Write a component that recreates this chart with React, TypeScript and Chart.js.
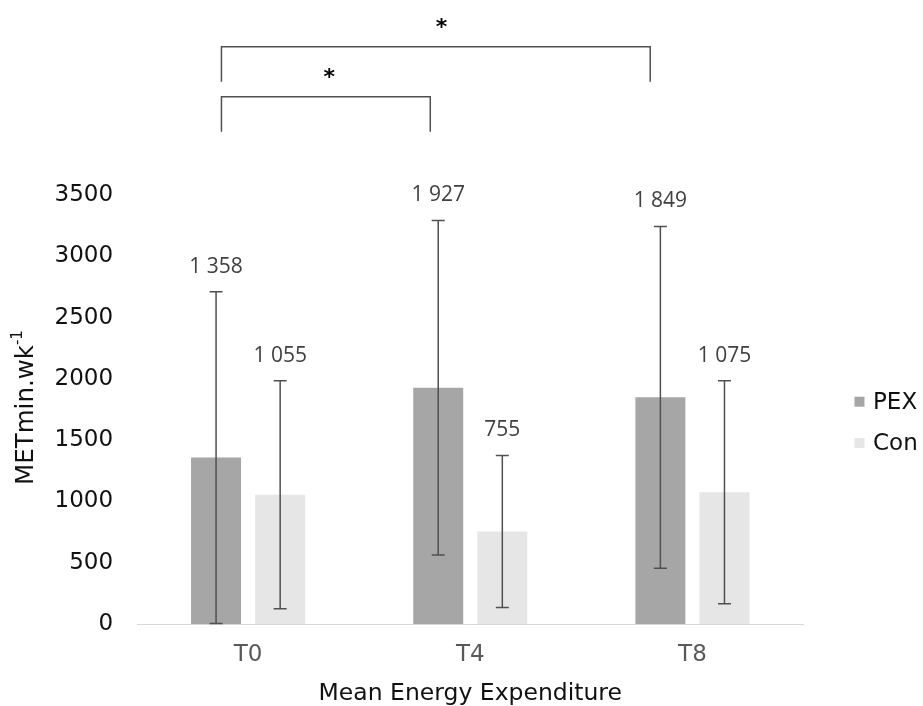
import React, { useEffect, useRef } from 'react';
import { Chart, registerables } from 'chart.js';

Chart.register(...registerables);

// ---- data ----
const categories = ['T0', 'T4', 'T8'];
const seriesNames = ['PEX', 'Con'];
const pexMeans = [1358, 1927, 1849];
const conMeans = [1055, 755, 1075];
const pexSD = [1353, 1365, 1395];
const conSD = [930, 620, 910];
const yTicks = [0, 500, 1000, 1500, 2000, 2500, 3000, 3500];

// significance brackets (x in category units, y in axis value units)
const bracketFrom = [-0.12, -0.12];
const bracketTo = [0.82, 1.81];
const bracketTopValue = [4302, 4710];
const bracketDropValue = [4017, 4424];
const starX = [0.365, 0.87];
const starValue = [4465, 4873];

const W = 923;
const H = 706;
const PEX_COLOR = '#a6a6a6';
const CON_COLOR = '#e6e6e6';
const AXIS_FONT = 'DejaVu Sans';

const formatValue = (v: number) =>
  v >= 1000 ? `${Math.floor(v / 1000)} ${String(v % 1000).padStart(3, '0')}` : String(v);

const overlayPlugin = {
  id: 'overlay',
  afterDatasetsDraw(chart: any) {
    const ctx = chart.ctx as CanvasRenderingContext2D;
    const y = chart.scales.y;
    const x = chart.scales.x;
    const sds = [pexSD, conSD];
    ctx.save();
    // error bars + value labels
    chart.data.datasets.forEach((ds: any, di: number) => {
      const meta = chart.getDatasetMeta(di);
      meta.data.forEach((el: any, i: number) => {
        const m = ds.data[i];
        const sd = sds[di][i];
        const top = y.getPixelForValue(m + sd);
        const bot = y.getPixelForValue(Math.max(0, m - sd));
        const cx = el.x;
        ctx.strokeStyle = '#505050';
        ctx.lineWidth = 1.5;
        ctx.beginPath();
        ctx.moveTo(cx, top);
        ctx.lineTo(cx, bot);
        ctx.moveTo(cx - 6.5, top);
        ctx.lineTo(cx + 6.5, top);
        ctx.moveTo(cx - 6.5, bot);
        ctx.lineTo(cx + 6.5, bot);
        ctx.stroke();
        ctx.fillStyle = '#404040';
        ctx.font = '21px "Open Sans"';
        ctx.textAlign = 'center';
        ctx.textBaseline = 'middle';
        ctx.fillText(formatValue(m), cx, top - 25);
      });
    });
    // brackets
    ctx.strokeStyle = '#505050';
    ctx.lineWidth = 1.5;
    for (let b = 0; b < bracketFrom.length; b++) {
      const x1 = x.getPixelForValue(bracketFrom[b]);
      const x2 = x.getPixelForValue(bracketTo[b]);
      const yt = y.getPixelForValue(bracketTopValue[b]);
      const yd = y.getPixelForValue(bracketDropValue[b]);
      ctx.beginPath();
      ctx.moveTo(x1, yd);
      ctx.lineTo(x1, yt);
      ctx.lineTo(x2, yt);
      ctx.lineTo(x2, yd);
      ctx.stroke();
      ctx.fillStyle = '#000';
      ctx.font = 'bold 22px "DejaVu Sans"';
      ctx.textAlign = 'center';
      ctx.textBaseline = 'alphabetic';
      ctx.fillText('*', x.getPixelForValue(starX[b]), y.getPixelForValue(starValue[b]) + 7);
    }
    // x title
    const area = chart.chartArea;
    ctx.fillStyle = '#111';
    ctx.font = `23.5px "${AXIS_FONT}"`;
    ctx.textAlign = 'center';
    ctx.textBaseline = 'alphabetic';
    ctx.fillText('Mean Energy Expenditure', (area.left + area.right) / 2, 700);
    // y title with superscript
    ctx.save();
    const main = 'METmin.wk';
    const sup = '-1';
    ctx.font = `24.5px "${AXIS_FONT}"`;
    const mw = ctx.measureText(main).width;
    ctx.font = `15px "${AXIS_FONT}"`;
    const sw = ctx.measureText(sup).width;
    const total = mw + sw;
    ctx.translate(33, (area.top + area.bottom) / 2 - 2);
    ctx.rotate(-Math.PI / 2);
    ctx.textAlign = 'left';
    ctx.font = `24.5px "${AXIS_FONT}"`;
    ctx.fillText(main, -total / 2, 0);
    ctx.font = `15px "${AXIS_FONT}"`;
    ctx.fillText(sup, -total / 2 + mw, -11);
    ctx.restore();
    // legend
    const legendColors = [PEX_COLOR, CON_COLOR];
    const legendY = [401.7, 443];
    seriesNames.forEach((name, i) => {
      ctx.fillStyle = legendColors[i];
      ctx.fillRect(area.right + 51, legendY[i] - 5, 10, 10);
      ctx.fillStyle = '#111';
      ctx.font = `23px "${AXIS_FONT}"`;
      ctx.textAlign = 'left';
      ctx.textBaseline = 'middle';
      ctx.fillText(name, area.right + 69.5, legendY[i] + 1);
    });
    ctx.restore();
  },
};

export default function App() {
  const ref = useRef<HTMLCanvasElement>(null);
  useEffect(() => {
    const chart = new Chart(ref.current!, {
      type: 'bar',
      data: {
        labels: categories,
        datasets: [
          {
            label: seriesNames[0],
            data: pexMeans,
            backgroundColor: PEX_COLOR,
            categoryPercentage: 0.577,
            barPercentage: 0.78,
          },
          {
            label: seriesNames[1],
            data: conMeans,
            backgroundColor: CON_COLOR,
            categoryPercentage: 0.577,
            barPercentage: 0.78,
          },
        ],
      },
      options: {
        responsive: false,
        devicePixelRatio: 1,
        animation: false,
        layout: { padding: { top: 195, right: 119.5, left: 30.5, bottom: 20 } },
        plugins: { legend: { display: false }, tooltip: { enabled: false } },
        scales: {
          x: {
            grid: { display: false, drawTicks: false },
            border: { display: true, color: '#d9d9d9', width: 1 },
            ticks: {
              color: '#595959',
              padding: 19.5,
              font: { family: AXIS_FONT, size: 23, lineHeight: 1 },
            },
          },
          y: {
            min: 0,
            max: 3500,
            grid: { display: false, drawTicks: false },
            border: { display: false },
            afterBuildTicks: (axis: any) => {
              axis.ticks = yTicks.map((v) => ({ value: v }));
            },
            ticks: {
              color: '#111',
              padding: 24,
              font: { family: AXIS_FONT, size: 23, lineHeight: 1 },
              callback: (v: any) => String(v),
            },
          },
        },
      },
      plugins: [overlayPlugin],
    });
    return () => chart.destroy();
  }, []);
  return (
    <canvas
      ref={ref}
      width={W}
      height={H}
      style={{ position: 'absolute', left: 0, top: 0, width: W, height: H, display: 'block' }}
    />
  );
}
